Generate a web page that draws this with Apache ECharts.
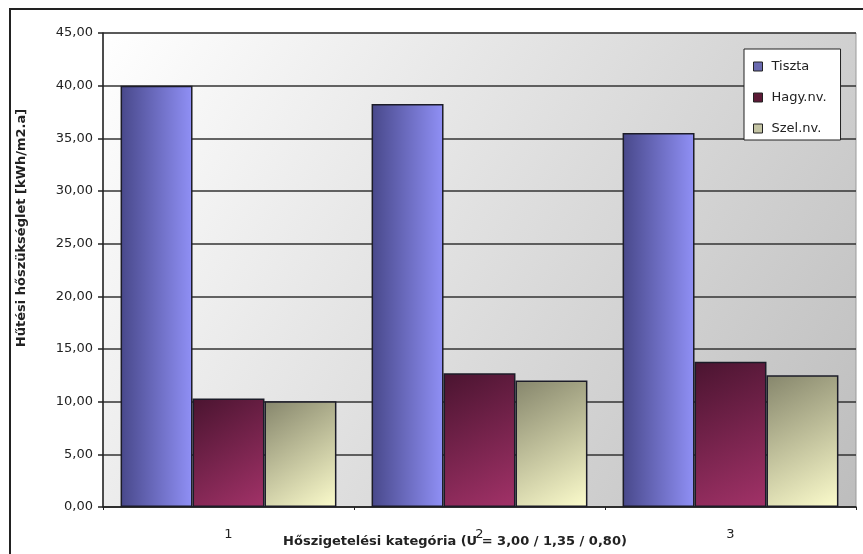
<!DOCTYPE html>
<html>
<head>
<meta charset="utf-8">
<script src="https://cdn.jsdelivr.net/npm/echarts@6/dist/echarts.min.js"></script>
<style>html,body{margin:0;padding:0;background:#fff;}#c{width:863px;height:554px;}</style>
</head>
<body>
<div id="c"></div>
<script>
const categories = ['1', '2', '3'];
const seriesNames = ['Tiszta', 'Hagy.nv.', 'Szel.nv.'];
const tiszta = [40.0, 38.25, 35.5];
const hagy = [10.3, 12.7, 13.8];
const szel = [10.05, 12.0, 12.5];
const yTicks = { min: 0, max: 45, interval: 5 };
const yTitle = 'Hűtési hőszükséglet [kWh/m2.a]';
const xTitle = 'Hőszigetelési kategória (U = 3,00 / 1,35 / 0,80)';

const FONT = 'DejaVu Sans, sans-serif';
function grad(x, y, x2, y2, c0, c1) {
  return { type: 'linear', x: x, y: y, x2: x2, y2: y2, colorStops: [{ offset: 0, color: c0 }, { offset: 1, color: c1 }] };
}
const fills = [
  grad(0, 0, 1, 0, '#48488a', '#9090f6'),
  grad(0, 0, 1, 1, '#4a1430', '#a23268'),
  grad(0, 0, 1, 1, '#86866c', '#fcfccc')
];
const legendColors = ['#6a6ab0', '#5c1a36', '#c4c4a4'];
const values = [tiszta, hagy, szel];

const chart = echarts.init(document.getElementById('c'), null, { renderer: 'canvas' });
chart.setOption({
  animation: false,
  backgroundColor: '#ffffff',
  grid: {
    left: 103, right: 7, top: 33, bottom: 47,
    show: true,
    backgroundColor: grad(0, 0, 1, 1, '#ffffff', '#bdbdbd'),
    borderColor: '#9a9a9a', borderWidth: 1
  },
  legend: {
    orient: 'vertical',
    left: 744, top: 49,
    padding: [11, 14, 5, 9],
    itemGap: 18,
    itemWidth: 9, itemHeight: 9,
    backgroundColor: '#ffffff',
    borderColor: '#222', borderWidth: 1,
    textStyle: { fontFamily: FONT, fontSize: 13, color: '#222', padding: [0, 0, 0, 4] },
    data: seriesNames.map((n, i) => ({ name: n, icon: 'rect', itemStyle: { color: legendColors[i], borderColor: '#222', borderWidth: 1 } }))
  },
  xAxis: {
    type: 'category',
    data: categories,
    axisLine: { lineStyle: { color: '#222', width: 1.5 } },
    axisTick: { show: true, length: 3, inside: false, lineStyle: { color: '#222' } },
    axisLabel: { margin: 21, fontFamily: FONT, fontSize: 13, color: '#222' },
    splitLine: { show: false }
  },
  yAxis: {
    type: 'value',
    min: yTicks.min, max: yTicks.max, interval: yTicks.interval,
    axisLine: { show: true, lineStyle: { color: '#222', width: 1.5 } },
    axisTick: { show: true, length: 5, lineStyle: { color: '#222', width: 1.5 } },
    axisLabel: { margin: 10, fontFamily: FONT, fontSize: 13, color: '#222',
      formatter: v => v.toFixed(2).replace('.', ',') },
    splitLine: { show: true, lineStyle: { color: '#333', width: 1.5 } }
  },
  series: seriesNames.map((n, i) => ({
    name: n,
    type: 'bar',
    data: values[i],
    barGap: '0%',
    barCategoryGap: '14%',
    itemStyle: { color: fills[i], borderColor: '#1c1c28', borderWidth: 1.5 }
  })),
  graphic: [
    { type: 'rect', shape: { x: 10, y: 9, width: 900, height: 600 }, style: { fill: 'none', stroke: '#222', lineWidth: 2 }, silent: true, z: 100 },
    { type: 'text', x: 22, y: 228, rotation: Math.PI / 2,
      style: { text: yTitle, fontFamily: FONT, fontSize: 13, fontWeight: 'bold', fill: '#222', align: 'center', verticalAlign: 'middle' } },
    { type: 'text', x: 455, y: 542,
      style: { text: xTitle, fontFamily: FONT, fontSize: 13, fontWeight: 'bold', fill: '#222', align: 'center', verticalAlign: 'middle' } }
  ]
});
</script>
</body>
</html>
